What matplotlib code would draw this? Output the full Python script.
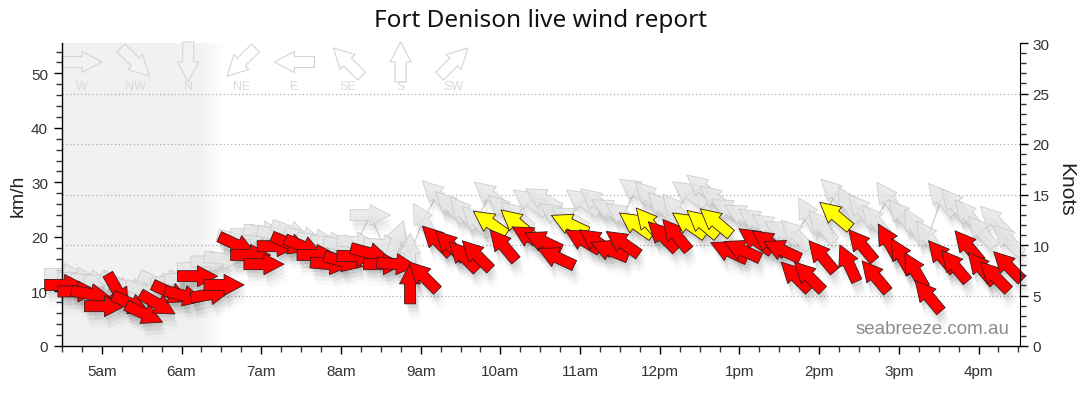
import matplotlib
matplotlib.use('Agg')
import matplotlib.pyplot as plt
import numpy as np
from matplotlib.collections import PolyCollection
from matplotlib.transforms import IdentityTransform

# ---------------- data ----------------
times = ["04:32", "04:42", "04:52", "05:02", "05:12", "05:22", "05:32", "05:42", "05:52",
         "06:02", "06:12", "06:22", "06:32", "06:42", "06:52", "07:02", "07:12", "07:22",
         "07:32", "07:42", "07:52", "08:02", "08:12", "08:22", "08:32", "08:42", "08:52",
         "09:02", "09:12", "09:22", "09:32", "09:42", "09:52", "10:02", "10:12", "10:22",
         "10:32", "10:42", "10:52", "11:02", "11:12", "11:22", "11:32", "11:42", "11:52",
         "12:02", "12:12", "12:22", "12:32", "12:42", "12:52", "13:02", "13:12", "13:22",
         "13:32", "13:42", "13:52", "14:02", "14:12", "14:22", "14:32", "14:42", "14:52",
         "15:02", "15:12", "15:22", "15:32", "15:42", "15:52", "16:02", "16:12", "16:22"]

avg_kmh = [11.2, 10.0, 9.5, 7.3, 10.0, 7.7, 5.9, 7.7, 9.7, 9.2, 12.8, 9.5, 11.2,
           18.5, 16.7, 15.0, 18.3, 18.7, 18.2, 16.7, 15.0, 15.5, 16.5, 17.0, 15.0, 15.0, 11.4,
           12.8, 19.4, 18.5, 16.5, 16.7, 22.6, 18.5, 22.6, 20.0, 19.2, 16.3, 22.4,
           19.4, 19.2, 17.6, 18.9, 22.3, 22.5, 20.2, 20.4, 22.3, 22.5, 22.8, 17.4, 17.6,
           19.4, 19.0, 17.6, 12.8, 12.8, 16.5, 24.0, 15.2, 18.5, 12.8, 19.2, 16.5, 13.9, 9.2,
           16.5, 14.7, 18.3, 14.3, 12.8, 14.7]

avg_dir = [270, 270, 280, 270, 330, 295, 295, 300, 295, 285, 270, 260, 270,
           295, 270, 270, 270, 292, 292, 270, 275, 285, 270, 285, 270, 275, 180,
           135, 135, 135, 135, 135, 125, 140, 130, 120, 115, 115, 115,
           120, 125, 112, 125, 125, 140, 135, 140, 125, 130, 130, 115, 115,
           125, 125, 115, 135, 135, 140, 130, 155, 140, 140, 150, 150, 150, 140,
           140, 140, 140, 140, 135, 135]

gust_kmh = [13.2, 12.5, 12.0, 12.0, 11.0, 10.5, 10.0, 11.5, 12.0, 12.5, 14.5, 15.5, 16.0,
            19.5, 20.5, 21.0, 20.5, 21.0, 20.0, 19.5, 19.0, 18.5, 19.0, 24.0, 18.5, 19.5, 17.0,
            23.0, 27.7, 25.7, 24.5, 23.0, 27.7, 25.0, 24.0, 26.5, 27.0, 24.0, 23.5,
            26.5, 26.5, 25.0, 24.0, 28.5, 27.5, 25.5, 25.0, 28.0, 29.0, 27.0, 25.0, 24.0,
            23.0, 22.0, 21.0, 20.5, 24.0, 22.0, 28.0, 26.0, 25.0, 23.0, 27.0, 24.0, 22.0, 20.0,
            27.0, 26.0, 24.0, 21.0, 23.0, 19.5]

gust_dir = [270, 270, 275, 270, 300, 290, 290, 295, 260, 265, 265, 270, 275,
            285, 270, 275, 280, 290, 285, 275, 275, 280, 275, 270, 275, 200, 180,
            150, 135, 135, 140, 135, 130, 135, 130, 125, 120, 125, 120,
            125, 130, 120, 125, 125, 135, 135, 140, 125, 130, 130, 120, 120,
            125, 125, 120, 135, 150, 140, 135, 150, 140, 140, 145, 140, 150, 145,
            140, 140, 140, 140, 135, 135]

compass_labels = ["W", "NW", "N", "NE", "E", "SE", "S", "SW"]
compass_from = [270, 315, 0, 45, 90, 135, 180, 225]

hour_ticks = [5, 6, 7, 8, 9, 10, 11, 12, 13, 14, 15, 16]
hour_labels = ["5am", "6am", "7am", "8am", "9am", "10am", "11am", "12pm",
               "1pm", "2pm", "3pm", "4pm"]

KNOT = 1.852
YMAX_KNOTS = 30
YMAX = YMAX_KNOTS * KNOT
YELLOW_FROM_KNOTS = 12

# ---------------- helpers ----------------
ARROW = np.array([(-20, -5.5), (0, -5.5), (0, -10.5), (20, 0),
                  (0, 10.5), (0, 5.5), (-20, 5.5)], dtype=float)


def arrow_verts(from_deg, dx=0.0, dy=0.0):
    theta = np.deg2rad(90 - (from_deg + 180))
    c, s = np.cos(theta), np.sin(theta)
    R = np.array([[c, -s], [s, c]])
    return ARROW @ R.T + np.array([dx, dy])


def add_arrows(ax, xs, ys, dirs, face, edge, lw, alpha, z, trans=None, dx=0.0, dy=0.0):
    verts = [arrow_verts(d, dx, dy) for d in dirs]
    pc = PolyCollection(verts, offsets=np.column_stack([xs, ys]),
                        offset_transform=trans if trans is not None else ax.transData,
                        facecolors=face, edgecolors=edge, linewidths=lw,
                        alpha=alpha, zorder=z)
    pc.set_transform(IdentityTransform())
    pc.set_clip_on(False)
    ax.add_collection(pc, autolim=False)
    return pc


def to_hours(s):
    h, m = s.split(":")
    return int(h) + int(m) / 60.0


x = np.array([to_hours(t) for t in times])
avg = np.array(avg_kmh)
gst = np.array(gust_kmh)

# ---------------- figure ----------------
plt.rcParams['font.family'] = ['Liberation Sans', 'DejaVu Sans']
fig = plt.figure(figsize=(10.8, 4.14), dpi=100)
ax = fig.add_axes([62 / 1080, 67 / 414, 958 / 1080, 303 / 414])
XMIN, XMAX = 4.5, 4.5 + 958 / 79.7

# night shading gradient
gx = np.linspace(XMIN, 6.6, 300)
gv = np.interp(gx, [XMIN, 6.2, 6.52, 6.6], [241, 241, 255, 255]) / 255.0
img = np.dstack([gv, gv, gv]).reshape(1, -1, 3)
ax.imshow(img, extent=[XMIN, 6.6, 0, YMAX], aspect='auto', zorder=0,
          interpolation='bilinear')

# grid lines at knots
for k in [5, 10, 15, 20, 25]:
    ax.axhline(k * KNOT, color='#aaaaaa', lw=0.9, ls=(0, (1, 2)), zorder=0.5)

# gust line
ax.plot(x, gst, color='#cccccc', lw=0.8, zorder=1)

# gust shadows + arrows
for (ddx, ddy, a) in [(2, -5, 0.04), (3, -9, 0.035), (4, -13, 0.025)]:
    add_arrows(ax, x, gst, gust_dir, '#000000', 'none', 0, a, 1.5, dx=ddx, dy=ddy)
add_arrows(ax, x, gst, gust_dir, '#e6e6e6', '#c4c4c4', 0.6, 0.8, 2)

# average shadows
for (ddx, ddy, a) in [(2, -4, 0.06), (3, -8, 0.05), (4, -12, 0.035), (5, -16, 0.02)]:
    add_arrows(ax, x, avg, avg_dir, '#000000', 'none', 0, a, 2.5, dx=ddx, dy=ddy)
colors = ['#ffff00' if v / KNOT >= YELLOW_FROM_KNOTS else '#ff0000' for v in avg]
add_arrows(ax, x, avg, avg_dir, colors, '#3a1a1a', 0.6, 1.0, 3)

# compass legend
leg_x = [(82 - 62) / 958 + i * 53.1 / 958 for i in range(len(compass_labels))]
leg_y = [(347 - 63) / 303] * len(compass_labels)
add_arrows(ax, leg_x, leg_y, compass_from, (1, 1, 1, 0.15), '#d4d4d4', 0.8, None, 1.2,
           trans=ax.transAxes)
for lx, lab in zip(leg_x, compass_labels):
    ax.text(lx, (347 - 87) / 303, lab, transform=ax.transAxes, ha='center', va='center',
            fontsize=9, color='#dadada', zorder=1.2)

ax.set_xlim(XMIN, XMAX)
ax.set_ylim(0, YMAX)

# spines and ticks
ax.spines['top'].set_visible(False)
ax.spines['right'].set_visible(False)
for sp in ['left', 'bottom']:
    ax.spines[sp].set_color('#000000')
    ax.spines[sp].set_linewidth(1.0)
ax.set_xticks(hour_ticks)
ax.set_xticklabels(hour_labels)
ax.set_xticks(np.arange(4.5, XMAX, 0.25), minor=True)
ax.set_yticks(np.arange(0, 51, 10))
ax.set_yticks(np.arange(0, 55, 2), minor=True)
ax.tick_params(axis='both', which='major', length=6, width=1, color='#000000',
               labelsize=11, labelcolor='#333333', pad=4)
ax.tick_params(axis='both', which='minor', length=4, width=1, color='#333333')
ax.tick_params(axis='x', which='major', pad=7)

ax2 = ax.twinx()
ax2.set_ylim(0, YMAX_KNOTS)
ax2.spines['top'].set_visible(False)
ax2.spines['left'].set_visible(False)
ax2.spines['bottom'].set_visible(False)
ax2.spines['right'].set_color('#000000')
ax2.set_yticks(np.arange(0, 31, 5))
ax2.set_yticks(np.arange(0, 31, 1), minor=True)
ax2.tick_params(axis='y', which='major', length=6, width=1, labelsize=11,
                labelcolor='#333333', pad=3)
ax2.tick_params(axis='y', which='minor', length=4, width=1, color='#333333')

# texts
fig.text(0.5, 1 - 21 / 414, "Fort Denison live wind report", ha='center', va='center',
         fontsize=17.5, color='#111111', family=['Noto Sans', 'DejaVu Sans'])
fig.text(18 / 1080, 1 - 196 / 414, "km/h", rotation=90, ha='center', va='center',
         fontsize=14, color='#222222')
fig.text(1066 / 1080, 1 - 190 / 414, "Knots", rotation=270, ha='center', va='center',
         fontsize=15, color='#222222')
fig.text(1009 / 1080, 1 - 330 / 414, "seabreeze.com.au", ha='right', va='center',
         fontsize=13.5, color='#8c8c8c')

fig.savefig('out.png', dpi=100)
